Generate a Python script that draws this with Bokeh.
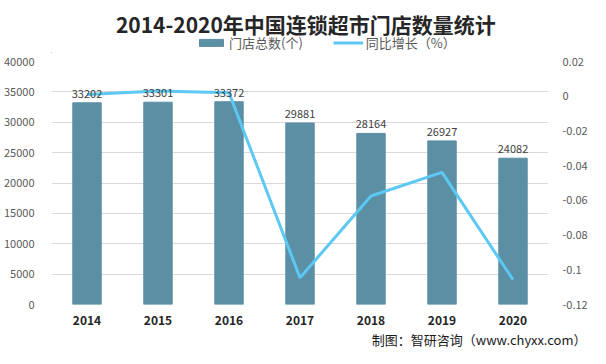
from bokeh.plotting import figure
from bokeh.models import (Range1d, LinearAxis, FactorRange, Legend, LegendItem,
                          Title, FixedTicker, ColumnDataSource, Label)
from bokeh.layouts import column
from bokeh.embed import file_html
from bokeh.resources import INLINE
from bokeh.core.properties import value

years = ["2014", "2015", "2016", "2017", "2018", "2019", "2020"]
stores = [33202, 33301, 33372, 29881, 28164, 26927, 24082]
growth = [0.001, 0.003, 0.002, -0.1046, -0.0575, -0.0439, -0.1057]
left_ticks = [0, 5000, 10000, 15000, 20000, 25000, 30000, 35000, 40000]
right_ticks = [-0.12, -0.1, -0.08, -0.06, -0.04, -0.02, 0, 0.02]
right_labels = ["-0.12", "-0.1", "-0.08", "-0.06", "-0.04", "-0.02", "0", "0.02"]

FONT = "Noto Sans CJK SC"
BAR = "#5b8fa4"
LINE = "#5cc8f4"
W = 590
HEAD_H = 53

# ---------- header (title + legend) ----------
h = figure(width=W, height=HEAD_H, x_range=Range1d(0, W), y_range=Range1d(0, HEAD_H),
           output_backend="svg", toolbar_location=None, min_border=0)
h.axis.visible = False
h.grid.visible = False
h.outline_line_color = None
h.add_layout(Label(x=W / 2 + 7, y=HEAD_H - 23, text="2014-2020年中国连锁超市门店数量统计",
                   text_align="center", text_baseline="middle", text_font=FONT,
                   text_font_size="21px", text_font_style="bold", text_color="#262626"))
# legend proxies (kept outside the visible range)
hb = h.vbar(x=[-100], top=[1], width=1, color=BAR)
hl = h.line(x=[-100, -90], y=[1, 1], line_color=LINE, line_width=3)
leg = Legend(items=[LegendItem(label="门店总数(个)", renderers=[hb]),
                    LegendItem(label="同比增长（%）", renderers=[hl])],
             orientation="horizontal", location=(145, 1), padding=0, margin=0,
             spacing=30, glyph_width=30, glyph_height=9, label_standoff=3, label_height=16,
             label_text_font=FONT, label_text_font_size="13px", label_text_color="#595959",
             border_line_color=None, background_fill_alpha=0)
h.add_layout(leg)

# ---------- main chart ----------
src = ColumnDataSource(dict(x=years, y=stores, g=growth, lab=[str(v) for v in stores]))

p = figure(width=W, height=348 - HEAD_H, x_range=FactorRange(*years), y_range=Range1d(0, 40000),
           output_backend="svg", toolbar_location=None,
           min_border_left=45, min_border_right=30, min_border_top=8, min_border_bottom=20)
p.x_range.range_padding = 0
p.extra_y_ranges = {"g": Range1d(-0.12, 0.02)}
p.outline_line_color = None

p.vbar(x="x", top="y", width=0.4, source=src, color=BAR)
p.line(x="x", y="g", source=src, y_range_name="g", line_color=LINE, line_width=3)

p.text(x="x", y="y", text="lab", source=src, y_offset=-5, text_align="center",
       text_baseline="bottom", text_font=value(FONT), text_font_size="11px", text_color="#404040")

p.yaxis.ticker = FixedTicker(ticks=left_ticks)
ax = p.yaxis[0]
ax.axis_line_color = None
ax.major_tick_line_color = None
ax.minor_tick_line_color = None
ax.major_label_text_font = FONT
ax.major_label_text_font_size = "11px"
ax.major_label_text_color = "#595959"
ax.major_label_standoff = 11

ra = LinearAxis(y_range_name="g", ticker=FixedTicker(ticks=right_ticks))
ra.major_label_overrides = {t: l for t, l in zip(right_ticks, right_labels)}
ra.axis_line_color = None
ra.major_tick_line_color = None
ra.minor_tick_line_color = None
ra.major_label_text_font = FONT
ra.major_label_text_font_size = "11px"
ra.major_label_text_color = "#595959"
ra.major_label_standoff = 8
p.add_layout(ra, "right")

p.xaxis.axis_line_color = None
p.xaxis.major_tick_line_color = None
p.xaxis.major_label_text_font = FONT
p.xaxis.major_label_text_font_size = "12px"
p.xaxis.major_label_text_font_style = "bold"
p.xaxis.major_label_text_color = "#262626"
p.xaxis.major_label_standoff = 5

p.xgrid.grid_line_color = None
p.ygrid.grid_line_color = "#d9d9d9"
p.ygrid.ticker = FixedTicker(ticks=left_ticks)

p.add_layout(Title(text="制图：智研咨询（www.chyxx.com）", align="right", offset=-38,
                   text_font=FONT, text_font_size="13px", text_font_style="normal",
                   text_color="#1a1a1a", standoff=0), "below")

layout = column(h, p, spacing=0)
open("out.html", "w").write(file_html(layout, INLINE))
